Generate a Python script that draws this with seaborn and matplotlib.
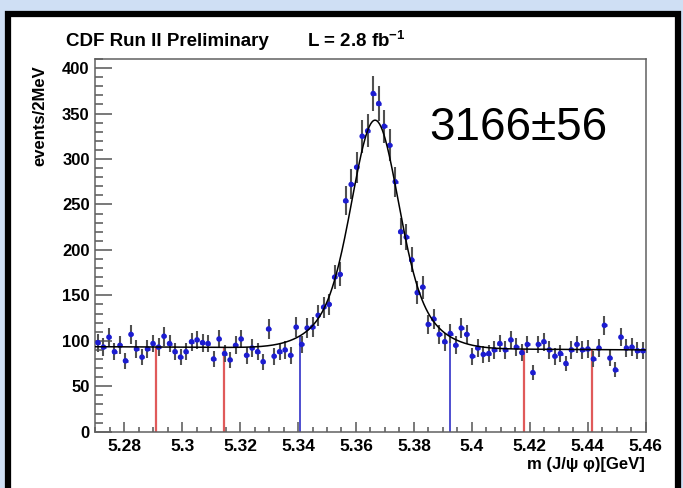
import numpy as np
import pandas as pd
import matplotlib
matplotlib.use("Agg")
import matplotlib.pyplot as plt
import seaborn as sns
from matplotlib.patches import Rectangle
from matplotlib.ticker import MultipleLocator, FuncFormatter

# ---------------- data ----------------
mass_lo, mass_hi = 5.27, 5.46
n_bins = 100
counts = [98, 93, 104, 88, 95, 78, 107, 91, 82, 91,
          97, 93, 105, 97, 88, 82, 88, 99, 101, 98,
          97, 80, 102, 86, 79, 95, 102, 84, 92, 88,
          77, 113, 83, 88, 90, 84, 115, 96, 114, 115,
          128, 137, 140, 170, 173, 254, 272, 291, 325, 331,
          372, 361, 336, 315, 275, 220, 214, 189, 153, 159,
          118, 124, 107, 99, 108, 95, 114, 107, 83, 92,
          85, 86, 90, 97, 90, 101, 93, 87, 96, 65,
          96, 99, 90, 83, 86, 75, 90, 96, 90, 91,
          80, 92, 117, 81, 68, 104, 92, 93, 89, 89]

# fit model parameters (linear background + double Gaussian)
bkg_left, bkg_right = 93.5, 90.0
peak_mean = 5.3666
narrow_amp, narrow_sigma = 180.0, 0.0075
wide_amp, wide_sigma = 71.0, 0.014

sideband_lines = [5.2910, 5.3145, 5.4180, 5.4415]
signal_lines = [5.3407, 5.3924]

title_left = "CDF Run II Preliminary"
title_lumi = r"L = 2.8 fb$^{\mathbf{-1}}$"
yield_text = "3166\u00b156"
y_title = "events/2MeV"
x_title = "m (J/\u03c8 \u03c6)[GeV]"

# ---------------- figure ----------------
sns.set_style("ticks")
plt.rcParams['font.family'] = ['Liberation Sans', 'DejaVu Sans']
plt.rcParams['mathtext.fontset'] = 'custom'
plt.rcParams['mathtext.rm'] = 'Liberation Sans:bold'
plt.rcParams['mathtext.bf'] = 'Liberation Sans:bold'
plt.rcParams['text.color'] = 'black'
plt.rcParams['xtick.labelcolor'] = 'black'
plt.rcParams['ytick.labelcolor'] = 'black'

W, H = 683, 488
fig = plt.figure(figsize=(W / 100, H / 100), dpi=100, facecolor='#cfdff4')

# white slide panel with black frame
fig.patches.append(Rectangle((8 / W, -0.05), (678 - 8) / W, 1.05 - 14 / H,
                             transform=fig.transFigure, facecolor='white',
                             edgecolor='black', lw=4.5, zorder=-5))

l, r, t, b = 95.2, 645.7, 59.0, 431.7
ax = fig.add_axes([l / W, 1 - b / H, (r - l) / W, (b - t) / H])
ax.set_zorder(2)
ax.set_facecolor('white')

edges = np.linspace(mass_lo, mass_hi, n_bins + 1)
centers = 0.5 * (edges[:-1] + edges[1:])
df = pd.DataFrame({"mass": centers, "count": counts})
df["err"] = np.sqrt(df["count"])


def fit_model(m):
    m = np.asarray(m, dtype=float)
    bkg = bkg_left + (bkg_right - bkg_left) * (m - mass_lo) / (mass_hi - mass_lo)
    sig = (narrow_amp * np.exp(-0.5 * ((m - peak_mean) / narrow_sigma) ** 2)
           + wide_amp * np.exp(-0.5 * ((m - peak_mean) / wide_sigma) ** 2))
    return bkg + sig


# vertical region markers
ax.vlines(sideband_lines, 0, fit_model(sideband_lines), color='#e05a5a', lw=1.6, zorder=1)
ax.vlines(signal_lines, 0, fit_model(signal_lines), color='#3030c8', lw=1.2, zorder=1)

# data points
ax.errorbar(df["mass"], df["count"], yerr=df["err"], fmt='none',
            ecolor='#505050', elinewidth=1.5, capsize=0, zorder=2)
ax.errorbar(df["mass"], df["count"], xerr=0.0008, fmt='none',
            ecolor='#1c1cd0', elinewidth=1.9, capsize=0, zorder=3)
sns.scatterplot(data=df, x="mass", y="count", color='#1c1cd0', s=16,
                edgecolor='none', ax=ax, zorder=4)

# fit curve
m_fine = np.linspace(mass_lo, mass_hi, 800)
fit_df = pd.DataFrame({"mass": m_fine, "fit": fit_model(m_fine)})
sns.lineplot(data=fit_df, x="mass", y="fit", color='black', lw=1.1, ax=ax, zorder=5)

ax.set_xlim(mass_lo, mass_hi)
ax.set_ylim(0, 410)
ax.set_xlabel("")
ax.set_ylabel("")

ax.xaxis.set_major_locator(MultipleLocator(0.02))
ax.xaxis.set_minor_locator(MultipleLocator(0.005))
ax.yaxis.set_major_locator(MultipleLocator(50))
ax.yaxis.set_minor_locator(MultipleLocator(10))
ax.xaxis.set_major_formatter(FuncFormatter(lambda v, p: f"{v:g}"))
ax.yaxis.set_major_formatter(FuncFormatter(lambda v, p: f"{v:g}"))

ax.tick_params(which='both', direction='in', color='#555555', width=1.1,
               top=False, right=False, labelcolor='black')
ax.tick_params(axis='y', which='major', length=12, pad=4, labelsize=12)
ax.tick_params(axis='y', which='minor', length=6)
ax.tick_params(axis='x', which='major', length=7, pad=5, labelsize=12.5)
ax.tick_params(axis='x', which='minor', length=3.6)
for lab in ax.get_xticklabels() + ax.get_yticklabels():
    lab.set_fontweight('bold')

for s in ax.spines.values():
    s.set_color('#606060')
    s.set_linewidth(1.1)
    s.set_visible(True)

# texts
fig.text(66 / W, 1 - 41 / H, title_left, fontsize=13.5, fontweight='bold',
         ha='left', va='center', color='black')
fig.text(307 / W, 1 - 41 / H, title_lumi, fontsize=13.5, fontweight='bold',
         ha='left', va='center', color='black')
fig.text(429 / W, 1 - 128 / H, yield_text, fontsize=33, ha='left', va='center',
         color='black', zorder=10)
fig.text(40 / W, 1 - 65 / H, y_title, fontsize=12, fontweight='bold',
         rotation=90, ha='center', va='top', color='black')
fig.text(645 / W, 1 - 465 / H, x_title, fontsize=12, fontweight='bold',
         ha='right', va='center', color='black')

fig.savefig("out.png", dpi=100, facecolor=fig.get_facecolor())
